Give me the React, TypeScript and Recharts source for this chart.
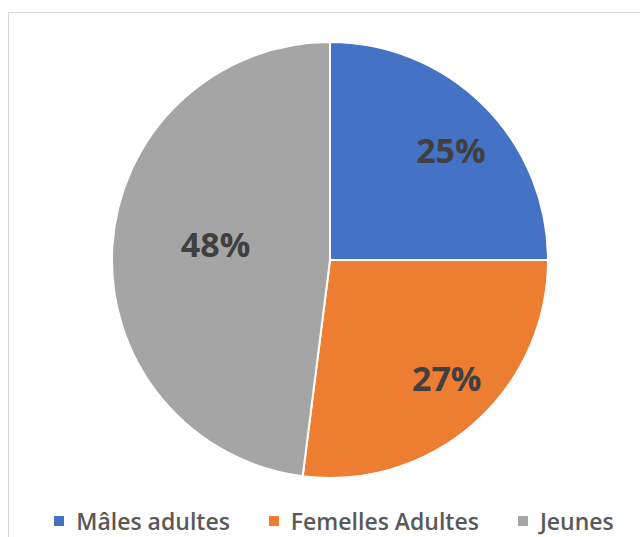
import React from "react";
import { PieChart, Pie, Cell } from "recharts";

const categories = ["Mâles adultes", "Femelles Adultes", "Jeunes"];
const percentages = [25, 27, 48];
const colors = ["#4472C4", "#ED7D31", "#A5A5A5"];

// label placement tweaks (radius fraction, angle shift in degrees)
const labelRadius = [0.75, 0.76, 0.53];
const labelShift = [-2.7, 3.4, -4.3];

const data = categories.map((name, i) => ({ name, value: percentages[i] }));

const RADIAN = Math.PI / 180;

const renderLabel = (props: any) => {
  const { cx, cy, midAngle, outerRadius, index, value } = props;
  const r = outerRadius * labelRadius[index];
  const a = (midAngle + labelShift[index]) * RADIAN;
  const x = cx + r * Math.cos(a);
  const y = cy - r * Math.sin(a);
  return (
    <text
      x={x}
      y={y}
      fill="#404040"
      textAnchor="middle"
      dominantBaseline="central"
      fontFamily="'Open Sans', sans-serif"
      fontWeight={700}
      fontSize={34}
    >
      {`${value}%`}
    </text>
  );
};

export default function App() {
  return (
    <div
      style={{
        position: "fixed",
        left: 0,
        top: 0,
        width: 640,
        height: 537,
        background: "#ffffff",
        overflow: "hidden",
      }}
    >
      <div
        style={{
          position: "absolute",
          left: 8,
          top: 12,
          width: 700,
          height: 600,
          border: "1px solid #d9d9d9",
          boxSizing: "border-box",
        }}
      />
      <div style={{ position: "absolute", left: 0, top: 0 }}>
        <PieChart width={640} height={537} margin={{ top: 0, right: 0, bottom: 0, left: 0 }}>
          <Pie
            data={data}
            dataKey="value"
            nameKey="name"
            cx={330}
            cy={260}
            outerRadius={218}
            startAngle={90}
            endAngle={-270}
            stroke="#ffffff"
            strokeWidth={2}
            label={renderLabel}
            labelLine={false}
            isAnimationActive={false}
          >
            {data.map((d, i) => (
              <Cell key={d.name} fill={colors[i]} />
            ))}
          </Pie>
        </PieChart>
      </div>
      <div
        style={{
          position: "absolute",
          left: 14,
          top: 509,
          width: 640,
          display: "flex",
          justifyContent: "center",
          alignItems: "center",
          gap: 39,
          fontFamily: "'Open Sans', sans-serif",
          fontSize: 23,
          lineHeight: "24px",
          fontWeight: 600,
          color: "#595959",
          whiteSpace: "nowrap",
        }}
      >
        {categories.map((name, i) => (
          <div key={name} style={{ display: "flex", alignItems: "center" }}>
            <span
              style={{
                display: "inline-block",
                width: 10,
                height: 10,
                background: colors[i],
                marginRight: 12,
              }}
            />
            <span>{name}</span>
          </div>
        ))}
      </div>
    </div>
  );
}
